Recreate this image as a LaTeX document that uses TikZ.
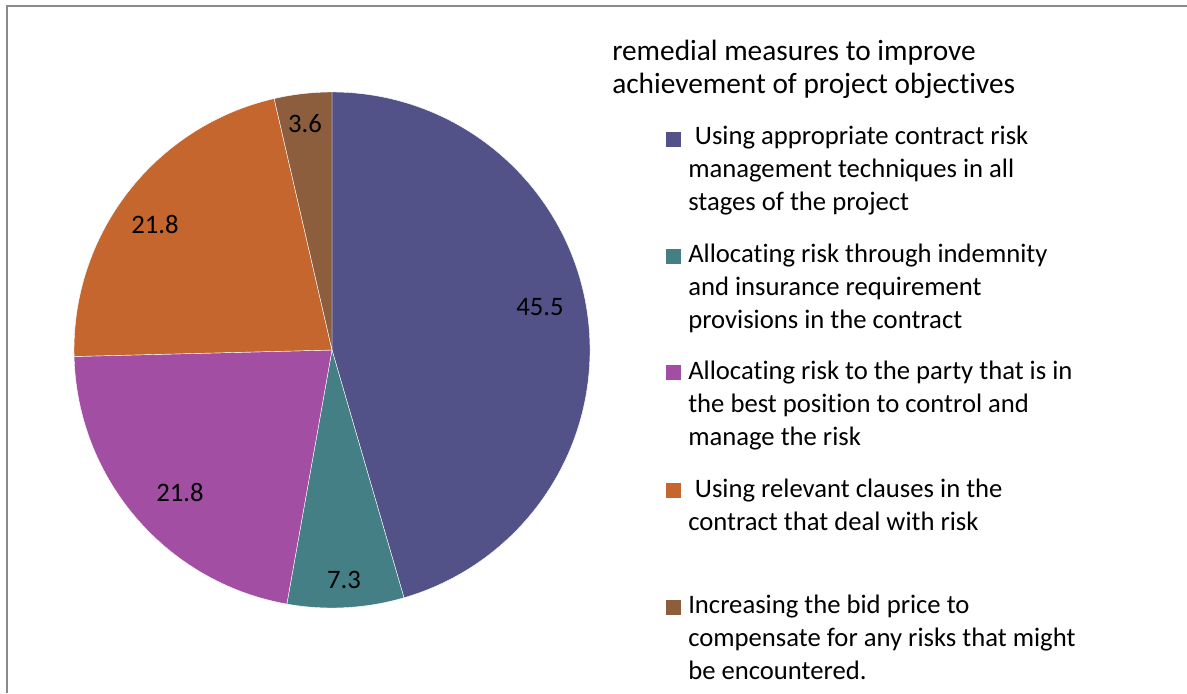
\documentclass[tikz,border=0pt]{standalone}
\usepackage{fontspec}
\setmainfont{Carlito}[Ligatures=NoCommon]
\definecolor{blueslice}{HTML}{525288}
\definecolor{tealslice}{HTML}{437F84}
\definecolor{purpleslice}{HTML}{A24EA3}
\definecolor{orangeslice}{HTML}{C4662E}
\definecolor{brownslice}{HTML}{8C5E3E}
\definecolor{framegray}{HTML}{8A8A8A}
\begin{document}
\begin{tikzpicture}
    [x=0.75pt,y=-0.75pt,
     slice/.style={draw=white,line width=0.3pt},
     val/.style={inner sep=0pt,font=\fontsize{20}{24}\selectfont},
     entry/.style={anchor=base west,align=left,inner sep=0pt,font=\fontsize{20}{24.5}\selectfont},
     key/.style={minimum size=11.25pt,inner sep=0pt}]
  \useasboundingbox (0,0) rectangle (1187,693);
  \draw[framegray,line width=1.5pt] (7,693) -- (7,6) -- (1187,6);
  % pie, clockwise from the top
  \coordinate (O) at (332,350);
  \fill[blueslice,slice] (O) -- ++(-90:258) arc (-90:73.8:258) -- cycle;
  \fill[tealslice,slice] (O) -- ++(73.8:258) arc (73.8:100.08:258) -- cycle;
  \fill[purpleslice,slice] (O) -- ++(100.08:258) arc (100.08:178.56:258) -- cycle;
  \fill[orangeslice,slice] (O) -- ++(178.56:258) arc (178.56:257.04:258) -- cycle;
  \fill[brownslice,slice] (O) -- ++(257.04:258) arc (257.04:270:258) -- cycle;
  \node [val] (v1) at (540,307) {45.5};
  \node [val] (v2) at (344,580) {7.3};
  \node [val] (v3) at (180,492) {21.8};
  \node [val] (v4) at (155,224) {21.8};
  \node [val] (v5) at (305,124) {3.6};
  % legend (base anchor sits on the last line)
  \node [entry,font=\fontsize{22}{24.75}\selectfont] (title) at (612,93)
    {remedial measures to improve\\achievement of project objectives};
  \node [key,fill=blueslice] (k1) at (673.5,139) {};
  \node [entry] (t1) at (688,210)
    {\hspace*{0.25em}Using appropriate contract risk\\management techniques in all\\stages of the project};
  \node [key,fill=tealslice] (k2) at (673.5,256) {};
  \node [entry] (t2) at (688,328)
    {Allocating risk through indemnity\\and insurance requirement\\provisions in the contract};
  \node [key,fill=purpleslice] (k3) at (673.5,372) {};
  \node [entry] (t3) at (688,445)
    {Allocating risk to the party that is in\\the best position to control and\\manage the risk};
  \node [key,fill=orangeslice] (k4) at (673.5,490) {};
  \node [entry] (t4) at (688,530)
    {\hspace*{0.25em}Using relevant clauses in the\\contract that deal with risk};
  \node [key,fill=brownslice] (k5) at (673.5,607) {};
  \node [entry] (t5) at (688,679)
    {Increasing the bid price to\\compensate for any risks that might\\be encountered.};
\end{tikzpicture}
\end{document}
